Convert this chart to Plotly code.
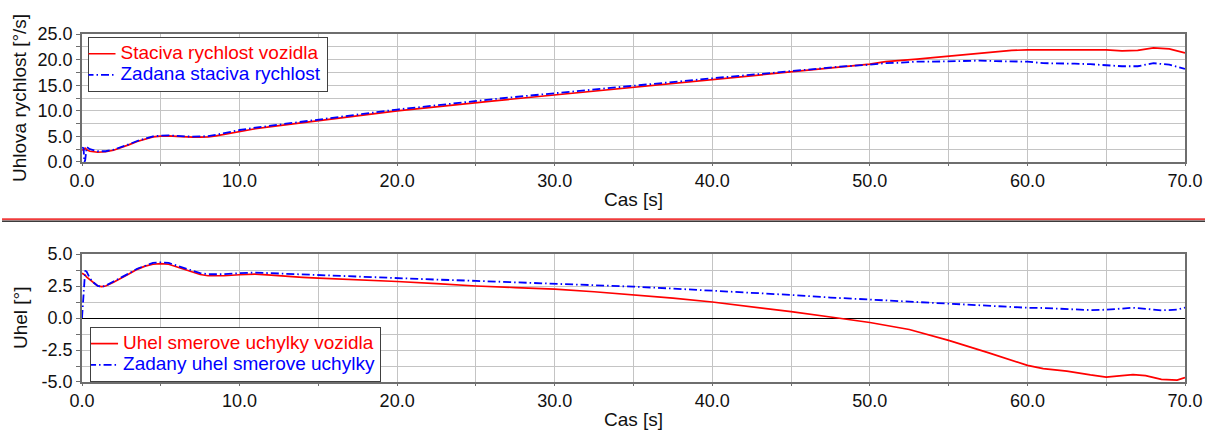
import plotly.graph_objects as go

# ---------------- data ----------------
t_rate = [0, 0.1, 0.15, 0.2, 0.3, 0.5, 1.0, 1.5, 2, 2.5, 3, 3.5, 4, 4.5, 5, 5.5, 6, 6.5, 7, 7.5,
          8, 8.5, 9, 9.5, 10, 11, 12, 13, 14, 15, 16, 17, 18, 19, 20, 22, 24, 26, 28, 30,
          32, 34, 36, 38, 40, 42, 44, 46, 48, 50, 51, 52, 53, 54, 55, 56, 57, 58, 59, 60,
          61, 62, 63, 64, 65, 66, 67, 68, 69, 70]
rate_vehicle = [2.4, 2.3, 2.5, 2.7, 2.4, 2.1, 1.9, 2.0, 2.3, 2.8, 3.4, 4.0, 4.5, 4.9, 5.05, 5.1, 5.0, 4.9, 4.85, 4.85,
                4.9, 5.1, 5.4, 5.75, 6.05, 6.5, 6.9, 7.3, 7.6, 8.0, 8.4, 8.8, 9.2, 9.6, 10.0, 10.6, 11.3, 11.9, 12.5, 13.1,
                13.7, 14.3, 14.9, 15.5, 16.1, 16.7, 17.3, 18.0, 18.6, 19.1, 19.6, 19.8, 20.1, 20.4, 20.7, 21.0, 21.3, 21.6, 21.8, 21.9,
                21.9, 21.9, 21.9, 22.0, 21.9, 21.7, 21.8, 22.3, 22.1, 21.3]
rate_target = [2.8, 2.7, 0.0, 0.3, 2.9, 2.5, 2.1, 2.1, 2.4, 2.9, 3.5, 4.1, 4.6, 5.0, 5.15, 5.2, 5.1, 5.0, 4.95, 5.0,
               5.05, 5.3, 5.6, 5.95, 6.25, 6.7, 7.1, 7.5, 7.85, 8.25, 8.65, 9.05, 9.45, 9.85, 10.25, 10.9, 11.6, 12.25, 12.85, 13.45,
               14.05, 14.6, 15.2, 15.75, 16.35, 16.9, 17.5, 18.1, 18.6, 19.0, 19.3, 19.4, 19.6, 19.6, 19.7, 19.8, 19.8, 19.7, 19.7, 19.6,
               19.3, 19.3, 19.2, 19.1, 18.9, 18.7, 18.7, 19.3, 19.0, 18.2]

t_angle = [0, 0.1, 0.2, 0.3, 0.5, 0.75, 1, 1.25, 1.5, 2, 2.5, 3, 3.5, 4, 4.5, 5, 5.5, 6, 6.5, 7,
           7.5, 8, 8.5, 9, 10, 11, 12, 13, 14, 15, 17.5, 20, 22.5, 25, 27.5, 30, 32.5, 35, 37.5, 40,
           42.5, 45, 47.5, 50, 52.5, 55, 57.5, 60, 61, 62.5, 64, 65, 66, 66.7, 67.5, 68.5, 69.5, 70]
angle_vehicle = [3.5, 3.45, 3.35, 3.2, 3.0, 2.7, 2.5, 2.45, 2.5, 2.8, 3.1, 3.45, 3.8, 4.05, 4.2, 4.25, 4.2, 4.0, 3.8, 3.55,
                 3.4, 3.3, 3.28, 3.3, 3.38, 3.42, 3.35, 3.25, 3.18, 3.12, 3.0, 2.85, 2.68, 2.5, 2.38, 2.25, 2.05, 1.82, 1.55, 1.25,
                 0.9, 0.5, 0.08, -0.35, -0.9, -1.75, -2.7, -3.7, -3.95, -4.15, -4.45, -4.62, -4.5, -4.42, -4.5, -4.8, -4.85, -4.65]
angle_target = [0.0, 2.0, 3.7, 3.6, 3.1, 2.75, 2.5, 2.45, 2.52, 2.85, 3.15, 3.5, 3.85, 4.1, 4.3, 4.35, 4.3, 4.1, 3.9, 3.65,
                3.5, 3.42, 3.4, 3.42, 3.5, 3.55, 3.5, 3.45, 3.4, 3.32, 3.2, 3.08, 3.0, 2.9, 2.8, 2.7, 2.58, 2.45, 2.3, 2.15,
                1.98, 1.8, 1.6, 1.43, 1.25, 1.1, 0.95, 0.8, 0.78, 0.7, 0.62, 0.65, 0.75, 0.8, 0.72, 0.6, 0.65, 0.82]

x_ticks = [0, 10, 20, 30, 40, 50, 60, 70]
x_labels = ["0.0", "10.0", "20.0", "30.0", "40.0", "50.0", "60.0", "70.0"]
y1_ticks = [0, 5, 10, 15, 20, 25]
y1_labels = ["0.0", "5.0", "10.0", "15.0", "20.0", "25.0"]
y2_ticks = [-5, -2.5, 0, 2.5, 5]
y2_labels = ["-5.0", "-2.5", "0.0", "2.5", "5.0"]

names_rate = ["Staciva rychlost vozidla", "Zadana staciva rychlost"]
names_angle = ["Uhel smerove uchylky vozidla", "Zadany uhel smerove uchylky"]

# ---------------- figure ----------------
FONT = "Liberation Sans, Arial, sans-serif"
RED = "#ff0000"
BLUE = "#0000ff"
DASH = "8px,3px,1.5px,3px"


def legend_name(text, color):
    return f"<span style='color:{color};font-size:19px'>{text}</span>"


fig = go.Figure()
fig.add_trace(go.Scatter(x=t_rate, y=rate_vehicle, mode="lines", xaxis="x", yaxis="y",
                         line=dict(color=RED, width=1.7),
                         name=legend_name(names_rate[0], RED), legend="legend"))
fig.add_trace(go.Scatter(x=t_rate, y=rate_target, mode="lines", xaxis="x", yaxis="y",
                         line=dict(color=BLUE, width=1.8, dash=DASH),
                         name=legend_name(names_rate[1], BLUE), legend="legend"))
fig.add_trace(go.Scatter(x=t_angle, y=angle_vehicle, mode="lines", xaxis="x2", yaxis="y2",
                         line=dict(color=RED, width=1.7),
                         name=legend_name(names_angle[0], RED), legend="legend2"))
fig.add_trace(go.Scatter(x=t_angle, y=angle_target, mode="lines", xaxis="x2", yaxis="y2",
                         line=dict(color=BLUE, width=1.8, dash=DASH),
                         name=legend_name(names_angle[1], BLUE), legend="legend2"))

GRID = "#c4c4c4"
FRAME = "#6e6e6e"
tickfont = dict(family=FONT, size=18, color="#111111")


def xaxis_cfg(anchor):
    return dict(anchor=anchor, domain=[0, 1], range=[0, 70], tickvals=x_ticks, ticktext=x_labels,
                showgrid=True, gridcolor=GRID, gridwidth=1, automargin=False,
                minor=dict(dtick=5, tick0=0, showgrid=True, gridcolor=GRID, ticks="outside",
                           ticklen=2, tickcolor=FRAME),
                ticks="outside", ticklen=2, tickcolor=FRAME,
                showline=True, linecolor=FRAME, linewidth=1.5, mirror=True,
                zeroline=False, tickfont=tickfont, fixedrange=True)


def yaxis_cfg(anchor, dom, rng, tv, tt, minor_dt):
    return dict(anchor=anchor, domain=dom, range=rng, tickvals=tv, ticktext=tt,
                showgrid=True, gridcolor=GRID, gridwidth=1, automargin=False,
                minor=dict(dtick=minor_dt, tick0=0, showgrid=True, gridcolor=GRID, ticks="outside",
                           ticklen=4, tickcolor=FRAME),
                ticks="outside", ticklen=4, tickcolor=FRAME,
                showline=True, linecolor=FRAME, linewidth=1.5, mirror=True,
                tickfont=tickfont, fixedrange=True)


y_top = [0.6322, 1.0]
y_bot = [0.0, 0.3678]

legend_common = dict(bgcolor="white", bordercolor="#404040", borderwidth=1,
                     font=dict(family=FONT, size=14), tracegroupgap=0, itemwidth=30,
                     indentation=-8)

fig.update_layout(
    width=1205, height=430,
    margin=dict(l=82, r=20, t=34, b=48, autoexpand=False),
    paper_bgcolor="white", plot_bgcolor="white",
    font=dict(family=FONT, size=18, color="#111111"),
    xaxis=xaxis_cfg("y"),
    xaxis2=xaxis_cfg("y2"),
    yaxis=yaxis_cfg("x", y_top, [0, 25], y1_ticks, y1_labels, 2.5) | dict(zeroline=False),
    yaxis2=yaxis_cfg("x2", y_bot, [-5, 5], y2_ticks, y2_labels, 1.25)
           | dict(zeroline=True, zerolinecolor="#000000", zerolinewidth=1),
    legend=dict(x=0.005, y=0.991, xanchor="left", yanchor="top", **legend_common),
    legend2=dict(x=0.0073, y=0.0, xanchor="left", yanchor="bottom", **legend_common),
    showlegend=True,
)

title_font = dict(family=FONT, size=19, color="#111111")
fig.add_annotation(text="Uhlova rychlost [°/s]", xref="paper", yref="paper", x=-0.0562, y=0.8161,
                   xanchor="center", yanchor="middle", textangle=-90, showarrow=False, font=title_font)
fig.add_annotation(text="Uhel [°]", xref="paper", yref="paper", x=-0.0562, y=0.1839,
                   xanchor="center", yanchor="middle", textangle=-90, showarrow=False, font=title_font)
fig.add_annotation(text="Cas [s]", xref="paper", yref="paper", x=0.5, y=0.523,
                   xanchor="center", yanchor="middle", showarrow=False, font=title_font)
fig.add_annotation(text="Cas [s]", xref="paper", yref="paper", x=0.5, y=-0.108,
                   xanchor="center", yanchor="middle", showarrow=False, font=title_font)

# divider double line between the two panels
fig.add_shape(type="line", xref="paper", yref="paper", x0=-0.0725, x1=1.02, y0=0.4675, y1=0.4675,
              line=dict(color="#f03c3c", width=2))
fig.add_shape(type="line", xref="paper", yref="paper", x0=-0.0725, x1=1.02, y0=0.4618, y1=0.4618,
              line=dict(color="#3c3c3c", width=1.5))

fig.write_html("out.html", config={"displayModeBar": False},
               post_script="document.body.style.margin='0px';")
